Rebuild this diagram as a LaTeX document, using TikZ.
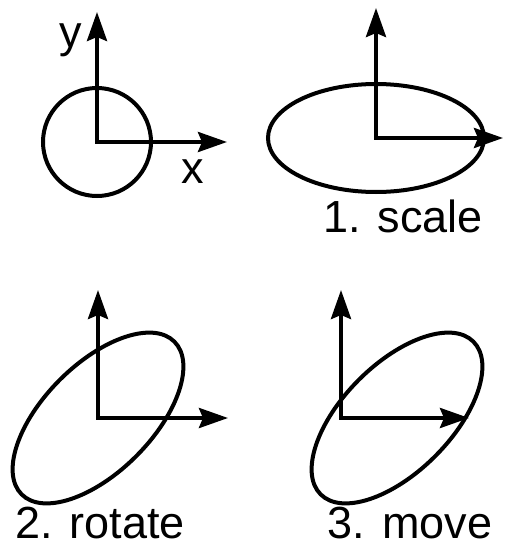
\documentclass[tikz,border=0pt]{standalone}
\usepackage{fontspec}
\setmainfont{Liberation Sans}
\usetikzlibrary{arrows.meta}
\begin{document}
\begin{tikzpicture}[x=1pt,y=-1pt,
  axes/.style={line width=4pt,line join=miter,{Stealth[length=29pt,width=20pt,inset=4pt]}-{Stealth[length=29pt,width=20pt,inset=4pt]}},
  curve/.style={line width=4pt},
  lbl/.style={font=\fontsize{45}{54}\selectfont, anchor=base, inner sep=0pt}]
\useasboundingbox (0,0) rectangle (504,546);
% panel 1
\coordinate (O1) at (97,142);
\coordinate (Y1) at (97,12);
\coordinate (X1) at (227,142);
\draw[curve] (O1) circle [radius=54];
\draw[axes] (Y1) -- (O1) -- (X1);
\node[lbl] (ylab) at (71,47) {y};
\node[lbl] (xlab) at (193,183) {x};
% panel 2
\coordinate (O2) at (376,138);
\coordinate (Y2) at (376,8);
\coordinate (X2) at (503,138);
\draw[curve] (O2) ellipse [x radius=108, y radius=54];
\draw[axes] (Y2) -- (O2) -- (X2);
\node[lbl] (l1) at (403,232) {1. scale};
% panel 3
\coordinate (O3) at (98,418);
\coordinate (Y3) at (98,290);
\coordinate (X3) at (228,418);
\draw[curve, rotate around={45:(O3)}] (O3) ellipse [x radius=108, y radius=54];
\draw[axes] (Y3) -- (O3) -- (X3);
\node[lbl] (l2) at (100,538) {2. rotate};
% panel 4
\coordinate (O4) at (341,418);
\coordinate (Y4) at (341,290);
\coordinate (X4) at (469,418);
\coordinate (E4) at (397,418);
\draw[curve, rotate around={45:(E4)}] (E4) ellipse [x radius=108, y radius=54];
\draw[axes] (Y4) -- (O4) -- (X4);
\node[lbl] (l3) at (410,538) {3. move};
\end{tikzpicture}
\end{document}
